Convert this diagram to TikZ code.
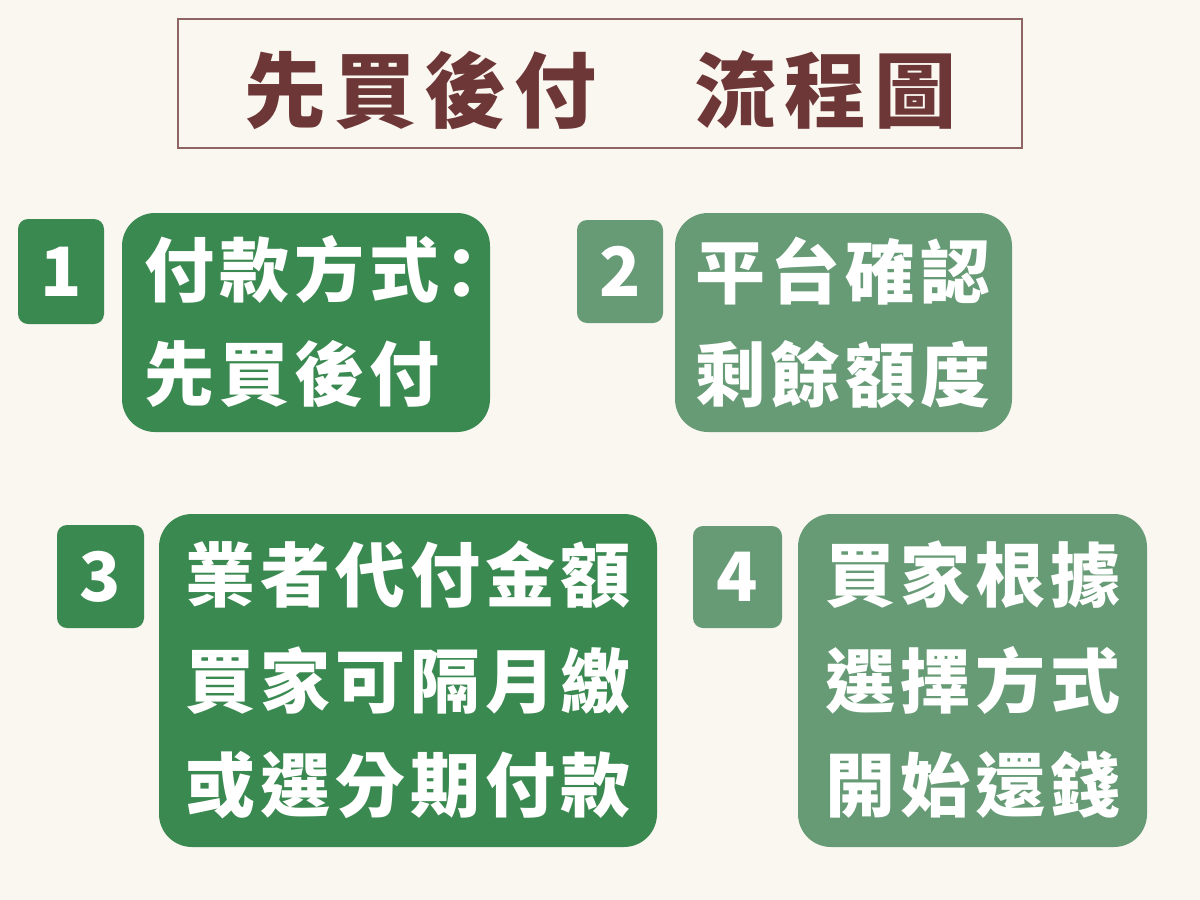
\documentclass[tikz,border=0pt]{standalone}
\usepackage{fontspec}
\newfontfamily\cjk{Noto Sans CJK TC}
\newfontfamily\cjksc{Noto Sans CJK SC}
\definecolor{bgcol}{HTML}{FAF7F1}
\definecolor{dgreen}{HTML}{3A8950}
\definecolor{lgreen}{HTML}{669B76}
\definecolor{titlecol}{HTML}{6E3737}
\definecolor{framecol}{HTML}{8E6464}
\makeatletter
\newcommand\spc[2]{\def\sp@pitch{#1}\sp@loop#2\relax}
\def\sp@loop#1{\ifx#1\relax\else\makebox[\sp@pitch][l]{#1}\expandafter\sp@loop\fi}
\makeatother
\tikzset{
  bigbox/.style={draw=none, rounded corners=33pt, inner sep=0pt},
  numbox/.style={draw=none, rounded corners=10pt, inner sep=0pt, text=white,
    font=\cjk\bfseries\fontsize{68}{70}\selectfont},
  line/.style={anchor=west, inner sep=0pt, text=white,
    font=\cjk\bfseries\fontsize{70}{72}\selectfont},
}
\begin{document}
\begin{tikzpicture}[x=1pt,y=-1pt]
\fill[bgcol] (0,0) rectangle (1200,900);
\useasboundingbox (0,0) rectangle (1200,900);

% title
\node[draw=framecol, line width=2pt, minimum width=844pt, minimum height=129pt, inner sep=0pt] (title) at (600,83.5) {};
\node[anchor=west, inner sep=0pt, text=titlecol, font=\cjk\bfseries\fontsize{82}{86}\selectfont] (titletext) at (244,90) {\spc{90pt}{先買後付　流程圖}};

% step 1
\node[numbox, fill=dgreen, minimum width=86pt, minimum height=105pt] (n1) at (61,271.5) {1};
\node[bigbox, fill=dgreen, minimum width=368pt, minimum height=219pt] (s1) at (306,322.5) {};
\node[line] (s1a) at (144,269) {\spc{75pt}{付款方式}\makebox[75pt][l]{\cjksc：}};
\node[line] (s1b) at (144,374) {\spc{75pt}{先買後付}};

% step 2
\node[numbox, fill=lgreen, minimum width=86pt, minimum height=103pt] (n2) at (620,271.5) {2};
\node[bigbox, fill=lgreen, minimum width=337pt, minimum height=219pt] (s2) at (843.5,322.5) {};
\node[line] (s2a) at (695,271) {\spc{75pt}{平台確認}};
\node[line] (s2b) at (695,374) {\spc{75pt}{剩餘額度}};

% step 3
\node[numbox, fill=dgreen, minimum width=87pt, minimum height=103pt] (n3) at (100.5,576.5) {3};
\node[bigbox, fill=dgreen, minimum width=498pt, minimum height=333pt] (s3) at (408,680.5) {};
\node[line] (s3a) at (185,575) {\spc{75pt}{業者代付金額}};
\node[line] (s3b) at (185,681) {\spc{75pt}{買家可隔月繳}};
\node[line] (s3c) at (185,785) {\spc{75pt}{或選分期付款}};

% step 4
\node[numbox, fill=lgreen, minimum width=89pt, minimum height=102pt] (n4) at (737.5,577) {4};
\node[bigbox, fill=lgreen, minimum width=349pt, minimum height=333pt] (s4) at (972.5,680.5) {};
\node[line] (s4a) at (825,575) {\spc{75pt}{買家根據}};
\node[line] (s4b) at (825,680) {\spc{75pt}{選擇方式}};
\node[line] (s4c) at (825,785) {\spc{75pt}{開始還錢}};
\end{tikzpicture}
\end{document}
